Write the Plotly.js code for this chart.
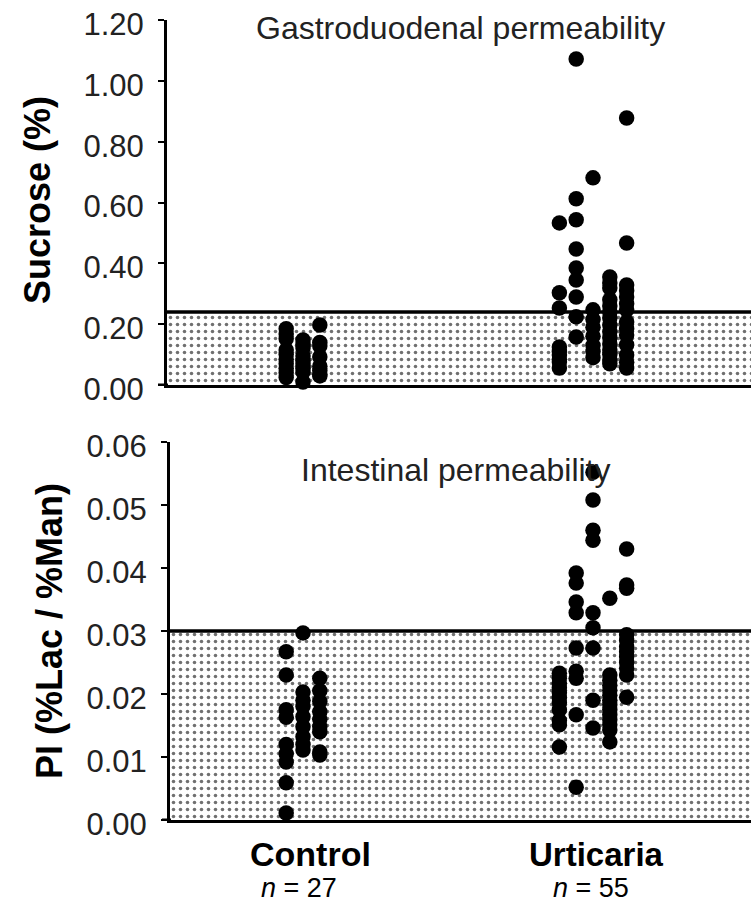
<!DOCTYPE html>
<html>
<head>
<meta charset="utf-8">
<script src="https://cdn.plot.ly/plotly-3.0.1.min.js"></script>
<style>html,body{margin:0;padding:0;background:#fff;}#chart{width:751px;height:905px;}</style>
</head>
<body>
<div id="chart"></div>
<script>
// ---------- DATA ----------
const groups = ["Control", "Urticaria"];
const groupN = [27, 55];

// Gastroduodenal permeability: sucrose (%)
const sucroseControl = [0.185,0.168,0.152,0.115,0.100,0.085,0.070,0.055,0.040,0.025,
                        0.148,0.135,0.122,0.095,0.080,0.069,0.055,0.043,0.010,
                        0.197,0.140,0.128,0.092,0.062,0.048,0.035,0.030];
const sucroseControlCol = [-1,-1,-1,-1,-1,-1,-1,-1,-1,-1,
                           0,0,0,0,0,0,0,0,0,
                           1,1,1,1,1,1,1,1];
const sucroseUrticaria = [0.533,0.303,0.253,0.125,0.110,0.099,0.085,0.076,0.056,
                          1.072,0.612,0.543,0.447,0.385,0.345,0.289,0.224,0.158,
                          0.681,0.247,0.215,0.190,0.160,0.130,0.110,0.090,
                          0.355,0.335,0.319,0.280,0.260,0.240,0.220,0.197,0.175,0.155,0.135,0.115,0.100,0.082,0.070,
                          0.878,0.467,0.329,0.310,0.289,0.267,0.247,0.207,0.185,0.164,0.132,0.099,0.075,0.056];
const sucroseUrticariaCol = [-2,-2,-2,-2,-2,-2,-2,-2,-2,
                             -1,-1,-1,-1,-1,-1,-1,-1,-1,
                             0,0,0,0,0,0,0,0,
                             1,1,1,1,1,1,1,1,1,1,1,1,1,1,1,
                             2,2,2,2,2,2,2,2,2,2,2,2,2,2];
const sucroseNormalLimit = 0.24;

// Intestinal permeability: PI (%Lac / %Man)
const piControl = [0.0267,0.0230,0.0175,0.0163,0.0120,0.0105,0.0092,0.0059,0.0011,
                   0.0297,0.0203,0.0190,0.0180,0.0164,0.0148,0.0132,0.0120,0.0111,
                   0.0225,0.0205,0.0188,0.0172,0.0160,0.0148,0.0140,0.0108,0.0103];
const piControlCol = [-1,-1,-1,-1,-1,-1,-1,-1,-1,
                      0,0,0,0,0,0,0,0,0,
                      1,1,1,1,1,1,1,1,1];
const piUrticaria = [0.0233,0.0225,0.0217,0.0210,0.0202,0.0194,0.0186,0.0175,0.0158,0.0151,0.0116,
                     0.0392,0.0376,0.0346,0.0329,0.0273,0.0236,0.0225,0.0167,0.0052,
                     0.0552,0.0508,0.0460,0.0444,0.0329,0.0305,0.0273,0.0190,0.0146,
                     0.0352,0.0230,0.0222,0.0214,0.0206,0.0198,0.0190,0.0183,0.0175,0.0167,0.0159,0.0151,0.0143,0.0124,
                     0.0430,0.0373,0.0368,0.0294,0.0285,0.0275,0.0267,0.0259,0.0250,0.0241,0.0230,0.0195];
const piUrticariaCol = [-2,-2,-2,-2,-2,-2,-2,-2,-2,-2,-2,
                        -1,-1,-1,-1,-1,-1,-1,-1,-1,
                        0,0,0,0,0,0,0,0,0,
                        1,1,1,1,1,1,1,1,1,1,1,1,1,1,
                        2,2,2,2,2,2,2,2,2,2,2,2];
const piNormalLimit = 0.03;

const sucroseTicks = [0, 0.2, 0.4, 0.6, 0.8, 1.0, 1.2];
const piTicks = [0, 0.01, 0.02, 0.03, 0.04, 0.05, 0.06];

// ---------- STYLE ----------
const FONT = "Liberation Sans, Arial, Helvetica, sans-serif";
const COL_STEP = 0.058;
const X1_RANGE = [-0.469, 1.5448];
const X2_RANGE = [-0.4586, 1.5448];

function xs(group, cols) { return cols.map(c => group + c * COL_STEP); }

const dotStyle = {color: "#000", size: 15.5, line: {width: 0}};
const pattern = {shape: ".", size: 7, solidity: 0.2, fgcolor: "#707070", bgcolor: "#ffffff"};

const traces = [
  // normal-range shaded areas
  {x: X1_RANGE, y: [sucroseNormalLimit, sucroseNormalLimit], xaxis: "x", yaxis: "y",
   type: "scatter", mode: "lines", fill: "tozeroy", fillpattern: pattern, fillcolor: "rgba(0,0,0,0)",
   line: {color: "#000", width: 3.5}, hoverinfo: "skip", showlegend: false},
  {x: X2_RANGE, y: [piNormalLimit, piNormalLimit], xaxis: "x2", yaxis: "y2",
   type: "scatter", mode: "lines", fill: "tozeroy", fillpattern: pattern, fillcolor: "rgba(0,0,0,0)",
   line: {color: "#000", width: 3.5}, hoverinfo: "skip", showlegend: false},
  // dots
  {x: xs(0, sucroseControlCol), y: sucroseControl, xaxis: "x", yaxis: "y", type: "scatter",
   mode: "markers", marker: dotStyle, cliponaxis: false, showlegend: false},
  {x: xs(1, sucroseUrticariaCol), y: sucroseUrticaria, xaxis: "x", yaxis: "y", type: "scatter",
   mode: "markers", marker: dotStyle, cliponaxis: false, showlegend: false},
  {x: xs(0, piControlCol), y: piControl, xaxis: "x2", yaxis: "y2", type: "scatter",
   mode: "markers", marker: dotStyle, cliponaxis: false, showlegend: false},
  {x: xs(1, piUrticariaCol), y: piUrticaria, xaxis: "x2", yaxis: "y2", type: "scatter",
   mode: "markers", marker: dotStyle, cliponaxis: false, showlegend: false}
];

const yCommon = {
  showgrid: false, zeroline: false, showline: true, linecolor: "#000", linewidth: 3,
  ticks: "outside", ticklen: 6, tickwidth: 2, tickcolor: "#000",
  tickformat: ".2f", ticklabelstandoff: 8, ticklabelshift: 4,
  tickfont: {family: FONT, size: 31, color: "#222"}
};
const xCommon = {
  showgrid: false, zeroline: false, showline: true, linecolor: "#000", linewidth: 3,
  showticklabels: false, ticks: "", fixedrange: true
};

const layout = {
  width: 751, height: 905,
  margin: {l: 0, r: 0, t: 0, b: 0},
  paper_bgcolor: "#fff", plot_bgcolor: "#fff",
  showlegend: false,
  xaxis: Object.assign({}, xCommon, {domain: [167/751, 1], range: X1_RANGE, anchor: "y"}),
  yaxis: Object.assign({}, yCommon, {domain: [520/905, 885/905], range: [0, 1.2], tickvals: sucroseTicks, anchor: "x"}),
  xaxis2: Object.assign({}, xCommon, {domain: [170/751, 1], range: X2_RANGE, anchor: "y2"}),
  yaxis2: Object.assign({}, yCommon, {domain: [85/905, 463/905], range: [0, 0.06], tickvals: piTicks, anchor: "x2"}),
  shapes: [
    {type: "line", xref: "paper", yref: "y", x0: 158/751, x1: 168/751, y0: 0, y1: 0, line: {color: "#000", width: 3}},
    {type: "line", xref: "paper", yref: "y2", x0: 162/751, x1: 171/751, y0: 0, y1: 0, line: {color: "#000", width: 3}}
  ],
  annotations: [
    {text: "Gastroduodenal permeability", xref: "paper", yref: "paper", x: 460/751, y: (905-28)/905,
     xanchor: "center", yanchor: "middle", showarrow: false, font: {family: FONT, size: 32, color: "#222"}},
    {text: "Intestinal permeability", xref: "paper", yref: "paper", x: 455/751, y: (905-470)/905,
     xanchor: "center", yanchor: "middle", showarrow: false, font: {family: FONT, size: 32, color: "#222"}},
    {text: "<b>Sucrose (%)</b>", xref: "paper", yref: "paper", x: 37/751, y: (905-200)/905, textangle: -90,
     xanchor: "center", yanchor: "middle", showarrow: false, font: {family: FONT, size: 36, color: "#000"}},
    {text: "<b>PI (%Lac / %Man)</b>", xref: "paper", yref: "paper", x: 49/751, y: (905-631)/905, textangle: -90,
     xanchor: "center", yanchor: "middle", showarrow: false, font: {family: FONT, size: 36, color: "#000"}},
    {text: "<b>" + groups[0] + "</b>", xref: "x2", yref: "paper", x: 0.025, y: (905-854)/905,
     xanchor: "center", yanchor: "middle", showarrow: false, font: {family: FONT, size: 34, color: "#000"}},
    {text: "<b>" + groups[1] + "</b>", xref: "x2", yref: "paper", x: 1.013, y: (905-854)/905,
     xanchor: "center", yanchor: "middle", showarrow: false, font: {family: FONT, size: 33, color: "#000"}},
    {text: "<i>n</i> = " + groupN[0], xref: "x2", yref: "paper", x: -0.015, y: (905-888)/905,
     xanchor: "center", yanchor: "middle", showarrow: false, font: {family: FONT, size: 27, color: "#000"}},
    {text: "<i>n</i> = " + groupN[1], xref: "x2", yref: "paper", x: 0.993, y: (905-888)/905,
     xanchor: "center", yanchor: "middle", showarrow: false, font: {family: FONT, size: 27, color: "#000"}}
  ]
};

Plotly.newPlot("chart", traces, layout, {displayModeBar: false, staticPlot: true});
</script>
</body>
</html>
